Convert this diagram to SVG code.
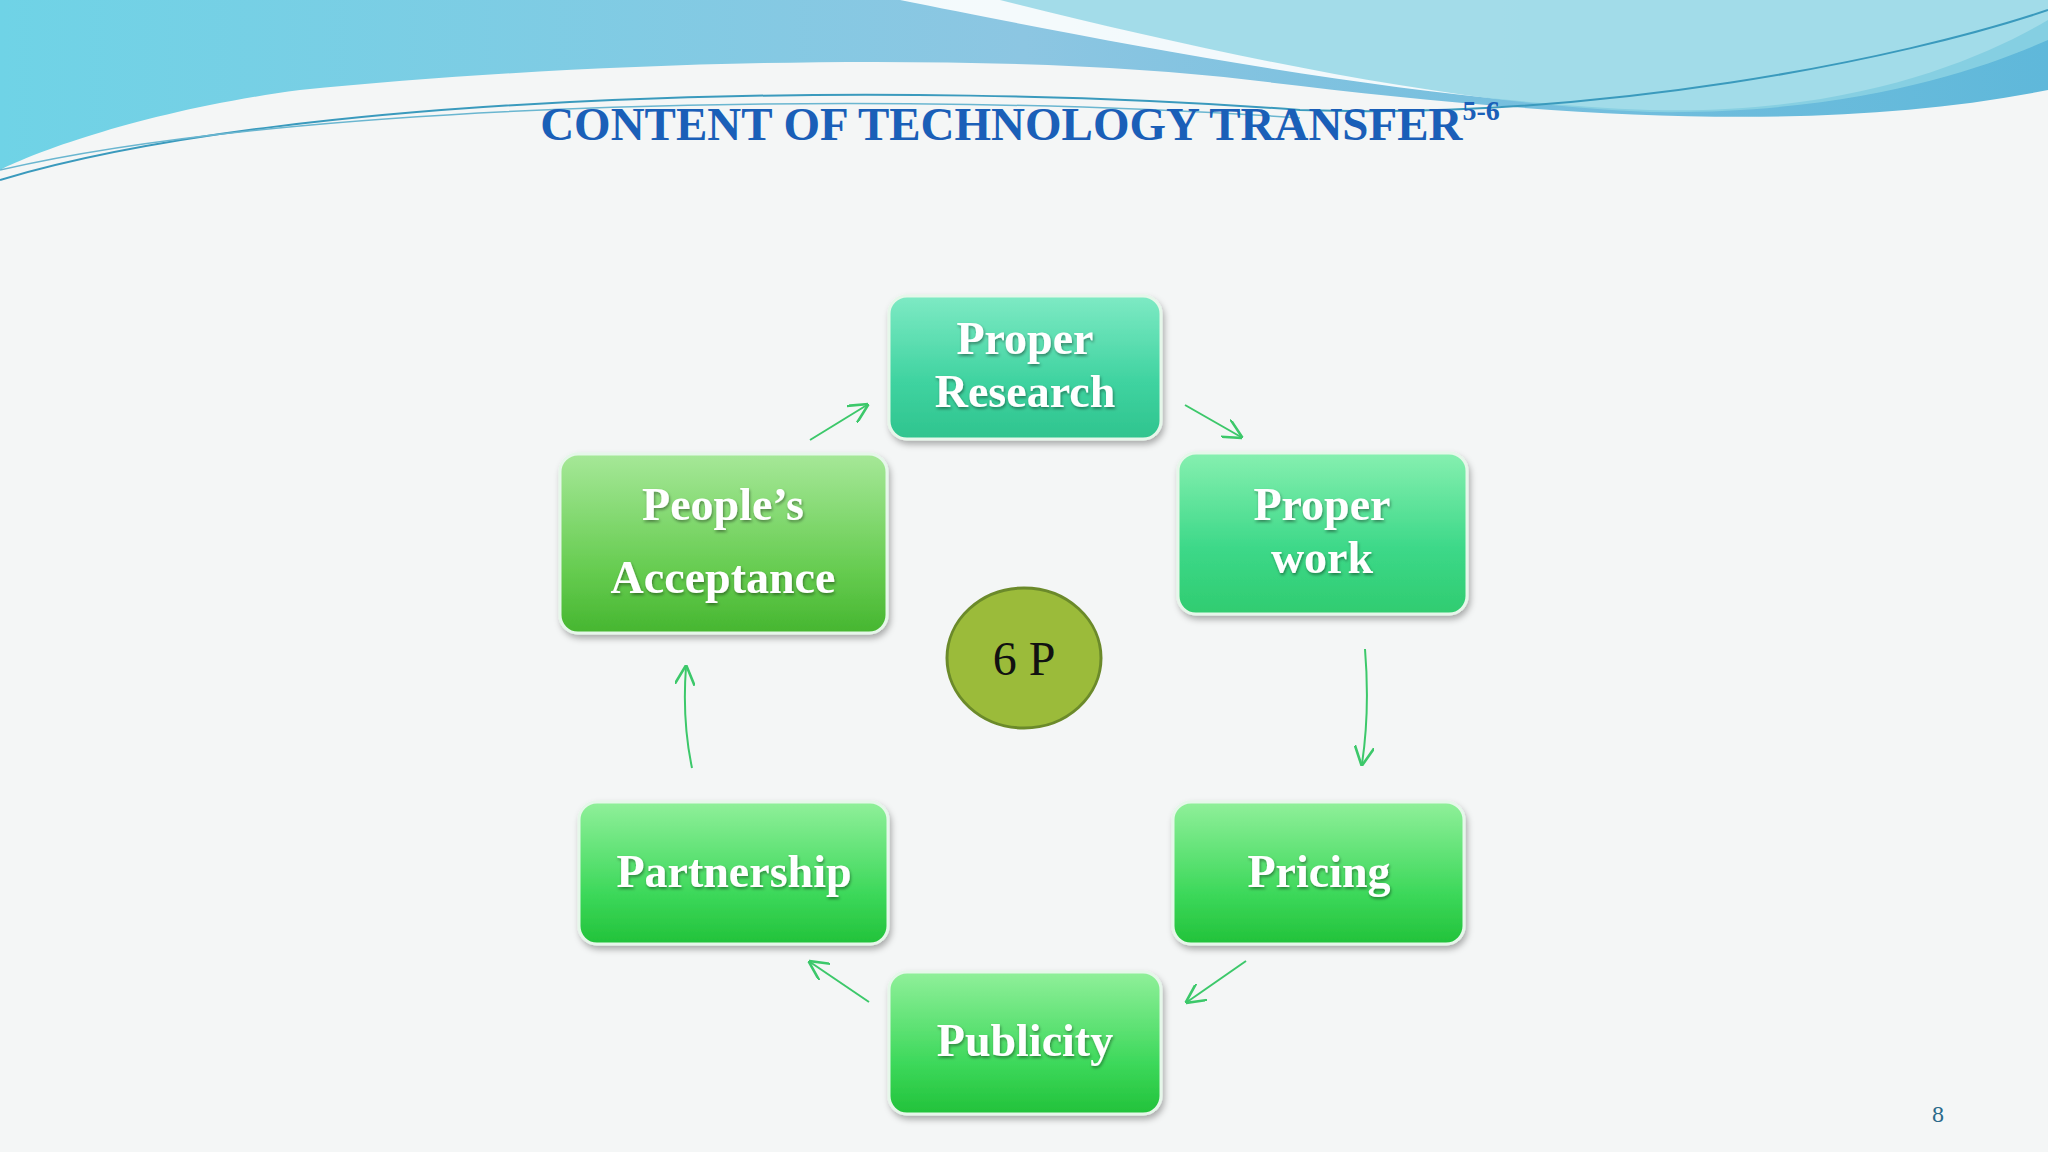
<svg xmlns="http://www.w3.org/2000/svg" width="2048" height="1152" viewBox="0 0 2048 1152">
<defs>
<linearGradient id="sky" x1="0" y1="0" x2="1" y2="0"><stop offset="0" stop-color="#6fd3e6"/><stop offset="0.5" stop-color="#8cc6e2"/><stop offset="1" stop-color="#5fb8da"/></linearGradient>
<linearGradient id="g1" x1="0" y1="0" x2="0" y2="1"><stop offset="0" stop-color="#7eeac4"/><stop offset="0.6" stop-color="#3fd3a0"/><stop offset="1" stop-color="#2fc48e"/></linearGradient>
<linearGradient id="g2" x1="0" y1="0" x2="0" y2="1"><stop offset="0" stop-color="#86f0b0"/><stop offset="0.6" stop-color="#3cd888"/><stop offset="1" stop-color="#30cc70"/></linearGradient>
<linearGradient id="g3" x1="0" y1="0" x2="0" y2="1"><stop offset="0" stop-color="#90f09a"/><stop offset="0.65" stop-color="#3cd85a"/><stop offset="1" stop-color="#22c23a"/></linearGradient>
<linearGradient id="g4" x1="0" y1="0" x2="0" y2="1"><stop offset="0" stop-color="#a6e898"/><stop offset="0.65" stop-color="#66cc50"/><stop offset="1" stop-color="#46b630"/></linearGradient>
<filter id="sh" x="-10%" y="-10%" width="130%" height="130%"><feDropShadow dx="2" dy="4" stdDeviation="3" flood-color="#000" flood-opacity="0.3"/></filter>
<filter id="ts"><feDropShadow dx="1" dy="2" stdDeviation="1.5" flood-color="#000" flood-opacity="0.4"/></filter>
<marker id="ah" viewBox="0 0 10 10" refX="9" refY="5" markerWidth="10" markerHeight="10" orient="auto"><path d="M0,0 L10,5 L0,10" fill="none" stroke="#3cc86a" stroke-width="1.3"/></marker>
</defs>
<style>
.box{stroke:#e6f7ea;stroke-width:3;filter:url(#sh)}
.lbl{font-family:"Liberation Serif",serif;font-weight:bold;font-size:46px;fill:#fff;text-anchor:middle;filter:url(#ts)}
.arr{fill:none;stroke:#3cc86a;stroke-width:2;marker-end:url(#ah)}
</style>
<rect width="2048" height="1152" fill="#f4f6f6"/>
<path d="M0,0 H2048 V90 C1800,140 1500,110 1250,80 C1000,50 600,60 300,90 C150,110 40,150 0,170 Z" fill="url(#sky)"/>
<path d="M900,0 C1100,40 1400,100 1650,110 C1850,115 1980,60 2048,20 V0 Z" fill="#fff" opacity="0.9"/>
<path d="M1000,0 C1200,50 1450,105 1650,112 C1850,115 1980,70 2048,40 V0 Z" fill="#8fd4e4" opacity="0.8"/>
<path d="M0,180 C300,90 900,80 1300,110 C1600,120 1900,60 2048,10" fill="none" stroke="#3a9abd" stroke-width="2"/>
<path d="M0,170 C300,100 900,90 1300,118" fill="none" stroke="#6ab6d0" stroke-width="1.5"/>
<text x="1020" y="140" font-family="Liberation Serif,serif" font-weight="bold" font-size="47" fill="#1a5fb8" text-anchor="middle">CONTENT OF TECHNOLOGY TRANSFER<tspan font-size="28" dy="-20">5-6</tspan></text>
<g id="connectors">
<path class="arr" d="M810,440 L867,405"/>
<path class="arr" d="M1185,405 L1241,437"/>
<path class="arr" d="M1365,649 Q1370,710 1362,764"/>
<path class="arr" d="M1246,961 L1187,1002"/>
<path class="arr" d="M869,1002 L810,962"/>
<path class="arr" d="M692,768 Q682,720 686,667"/>
</g>
<g id="n1"><rect class="box" x="889" y="296" width="272" height="143" rx="18" fill="url(#g1)"/><text class="lbl" x="1025" y="354">Proper</text><text class="lbl" x="1025" y="407">Research</text></g>
<g id="n2"><rect class="box" x="1178" y="453" width="289" height="161" rx="18" fill="url(#g2)"/><text class="lbl" x="1322" y="520">Proper</text><text class="lbl" x="1322" y="573">work</text></g>
<g id="n3"><rect class="box" x="1173" y="802" width="291" height="142" rx="18" fill="url(#g3)"/><text class="lbl" x="1319" y="887">Pricing</text></g>
<g id="n4"><rect class="box" x="889" y="972" width="272" height="142" rx="18" fill="url(#g3)"/><text class="lbl" x="1025" y="1056">Publicity</text></g>
<g id="n5"><rect class="box" x="579" y="802" width="309" height="142" rx="18" fill="url(#g3)"/><text class="lbl" x="734" y="887">Partnership</text></g>
<g id="n6"><rect class="box" x="560" y="454" width="327" height="179" rx="18" fill="url(#g4)"/><text class="lbl" x="723" y="520">People’s</text><text class="lbl" x="723" y="593">Acceptance</text></g>
<g id="center"><ellipse cx="1024" cy="658" rx="77" ry="70" fill="#9bbb3a" stroke="#6b8a2a" stroke-width="3"/><text x="1024" y="675" font-family="Liberation Serif,serif" font-size="48" fill="#111" text-anchor="middle">6 P</text></g>
<text x="1938" y="1122" font-family="Liberation Serif,serif" font-size="24" fill="#2a6a8a" text-anchor="middle">8</text>
</svg>
